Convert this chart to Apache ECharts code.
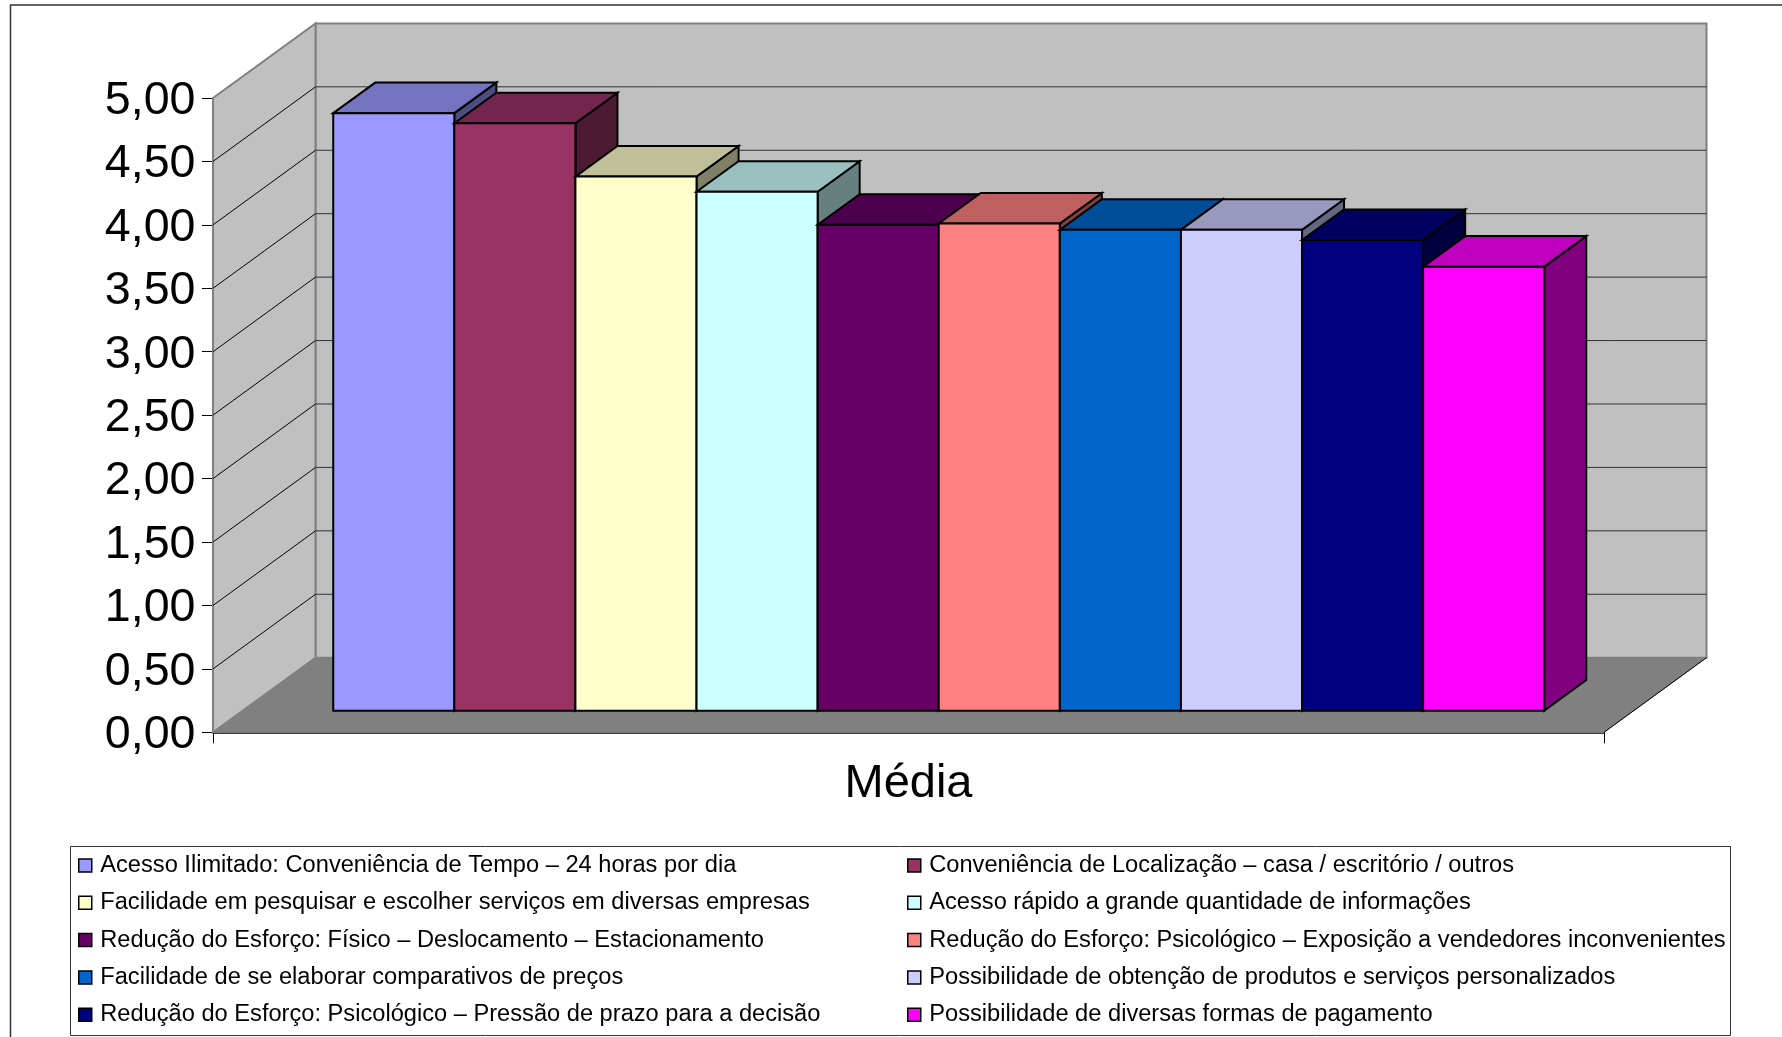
<!DOCTYPE html>
<html>
<head>
<meta charset="utf-8">
<style>html,body{margin:0;padding:0;background:#fff}#chart{width:1782px;height:1037px}</style>
<script src="https://cdn.jsdelivr.net/npm/echarts@6/dist/echarts.min.js"></script>
</head>
<body>
<div id="chart"></div>
<script>
const categories = ['Média'];
const seriesNames = [
  'Acesso Ilimitado: Conveniência de Tempo – 24 horas por dia',
  'Conveniência de Localização – casa / escritório / outros',
  'Facilidade em pesquisar e escolher serviços em diversas empresas',
  'Acesso rápido a grande quantidade de informações',
  'Redução do Esforço: Físico – Deslocamento – Estacionamento',
  'Redução do Esforço: Psicológico – Exposição a vendedores inconvenientes',
  'Facilidade de se elaborar comparativos de preços',
  'Possibilidade de obtenção de produtos e serviços personalizados',
  'Redução do Esforço: Psicológico – Pressão de prazo para a decisão',
  'Possibilidade de diversas formas de pagamento'
];
const seriesValues = [4.71, 4.63, 4.21, 4.09, 3.83, 3.84, 3.79, 3.79, 3.71, 3.50];
const seriesColors = ['#9999FF','#993366','#FFFFCC','#CCFFFF','#660066','#FF8080','#0066CC','#CCCCFF','#000080','#FF00FF'];
const yTicks = [0, 0.5, 1, 1.5, 2, 2.5, 3, 3.5, 4, 4.5, 5];

// Oblique projection of the chart box: screen offset of the full floor depth.
const DEPTH_X = 102.5, DEPTH_Y = -74.6;
// Bars sit between these fractions of the floor depth.
const BAR_NEAR = 0.29, BAR_FAR = 0.70;
// Share of the category band taken by the bars, and their sideways nudge.
const BAR_BAND = 0.8706, BAR_NUDGE = 0.5;

function shade(hex, k) {
  const n = parseInt(hex.slice(1), 16);
  const c = [n >> 16, (n >> 8) & 255, n & 255].map(v => Math.round(v * k));
  return 'rgb(' + c.join(',') + ')';
}
function quad(pts, fill, stroke, lineWidth) {
  return {
    type: 'polygon',
    shape: { points: pts },
    style: { fill: fill, stroke: stroke, lineWidth: lineWidth }
  };
}
function seg(a, b, stroke, lineWidth) {
  return {
    type: 'line',
    shape: { x1: a[0], y1: a[1], x2: b[0], y2: b[1] },
    style: { stroke: stroke, lineWidth: lineWidth }
  };
}
function shift(p, f) {
  return [p[0] + DEPTH_X * f, p[1] + DEPTH_Y * f];
}

// Walls, floor and the gridlines running around them.
function renderBox(params, api) {
  const c = api.coord([0, 0]);
  const band = api.size([1, 0])[0];
  const y0 = c[1];
  const yTop = api.coord([0, yTicks[yTicks.length - 1]])[1];
  const xL = c[0] - band / 2, xR = c[0] + band / 2;
  const wall = '#C0C0C0', edge = '#808080';
  const kids = [
    quad([shift([xL, yTop], 1), shift([xR, yTop], 1), shift([xR, y0], 1), shift([xL, y0], 1)], wall, edge, 2),
    quad([[xL, yTop], shift([xL, yTop], 1), shift([xL, y0], 1), [xL, y0]], wall, edge, 2),
    quad([[xL, y0], shift([xL, y0], 1), shift([xR, y0], 1), [xR, y0]], '#808080', '#808080', 1),
    seg([xR, y0], shift([xR, y0], 1), '#000', 1)
  ];
  yTicks.slice(1, -1).forEach(t => {
    const y = api.coord([0, t])[1];
    kids.push(seg([xL, y], shift([xL, y], 1), '#000', 1));
    kids.push(seg(shift([xL, y], 1), shift([xR, y], 1), '#333', 1));
  });
  return { type: 'group', children: kids };
}

// One box-shaped bar: front face, lit top and shaded right side.
function renderBar(index, color) {
  return function (params, api) {
    const base = api.coord([0, 0]);
    const top = api.coord([0, api.value(1)]);
    const band = api.size([1, 0])[0];
    const w = band * BAR_BAND / seriesValues.length;
    const left = base[0] - band * BAR_BAND / 2 + BAR_NUDGE + index * w;
    const right = left + w;
    const n = BAR_NEAR, f = BAR_FAR;
    const fbl = shift([left, base[1]], n), fbr = shift([right, base[1]], n);
    const ftl = shift([left, top[1]], n), ftr = shift([right, top[1]], n);
    const btl = shift([left, top[1]], f), btr = shift([right, top[1]], f);
    const bbr = shift([right, base[1]], f);
    return {
      type: 'group',
      children: [
        quad([fbr, bbr, btr, ftr], shade(color, 0.5), '#000', 2),
        quad([ftl, btl, btr, ftr], shade(color, 0.75), '#000', 2),
        quad([fbl, fbr, ftr, ftl], color, '#000', 2)
      ]
    };
  };
}

const boxSeries = {
  type: 'custom',
  name: 'caixa',
  silent: true,
  clip: false,
  data: [[0, 0]],
  encode: { x: 0, y: 1 },
  renderItem: renderBox
};
const barSeries = seriesNames.map((name, i) => ({
  type: 'custom',
  name: name,
  clip: false,
  itemStyle: { color: seriesColors[i] },
  data: [[0, seriesValues[i]]],
  encode: { x: 0, y: 1 },
  renderItem: renderBar(i, seriesColors[i])
}));

function legendColumn(names, left) {
  return {
    orient: 'vertical',
    left: left,
    top: 852,
    icon: 'rect',
    itemWidth: 13,
    itemHeight: 13,
    itemGap: 10.3,
    padding: 0,
    data: names,
    itemStyle: { borderColor: '#000', borderWidth: 1.5 },
    selectedMode: false,
    textStyle: { fontFamily: 'Liberation Sans', fontSize: 23.65, color: '#000', padding: [0, 0, 0, 3.5], height: 27, lineHeight: 27 }
  };
}

const chart = echarts.init(document.getElementById('chart'), null, { renderer: 'canvas' });
chart.setOption({
  animation: false,
  backgroundColor: '#fff',
  grid: { left: 213, top: 98, width: 1391, height: 634.3, containLabel: false },
  xAxis: {
    type: 'category',
    data: categories,
    axisLine: { lineStyle: { color: '#000', width: 1.5 } },
    axisTick: { show: true, interval: 0, alignWithLabel: false, length: 11, lineStyle: { color: '#000', width: 1 } },
    axisLabel: { fontFamily: 'Liberation Sans', fontSize: 47, color: '#000', margin: 28 }
  },
  yAxis: {
    type: 'value',
    min: 0,
    max: 5,
    interval: 0.5,
    splitLine: { show: false },
    axisLine: { show: true, lineStyle: { color: '#000', width: 1 } },
    axisTick: { show: true, length: 11, lineStyle: { color: '#000', width: 1 } },
    axisLabel: {
      margin: 17.5,
      showMinLabel: true,
      showMaxLabel: true,
      // A little space above each number sets it just below its tick.
      rich: { v: { fontFamily: 'Liberation Sans', fontSize: 46.6, color: '#000', padding: [6, 0, 0, 0] } },
      formatter: v => '{v|' + v.toFixed(2).replace('.', ',') + '}'
    }
  },
  legend: [
    legendColumn(seriesNames.filter((_, i) => i % 2 === 0), 78),
    legendColumn(seriesNames.filter((_, i) => i % 2 === 1), 907)
  ],
  graphic: [
    { type: 'rect', z: -1, shape: { x: 70.5, y: 846.5, width: 1660, height: 189 }, style: { fill: '#fff', stroke: '#333', lineWidth: 1 } },
    { type: 'polyline', z: -1, shape: { points: [[10.5, 1037], [10.5, 5], [1782, 5]] }, style: { fill: 'none', stroke: '#333', lineWidth: 1.5 } }
  ],
  series: [boxSeries].concat(barSeries)
});
</script>
</body>
</html>
